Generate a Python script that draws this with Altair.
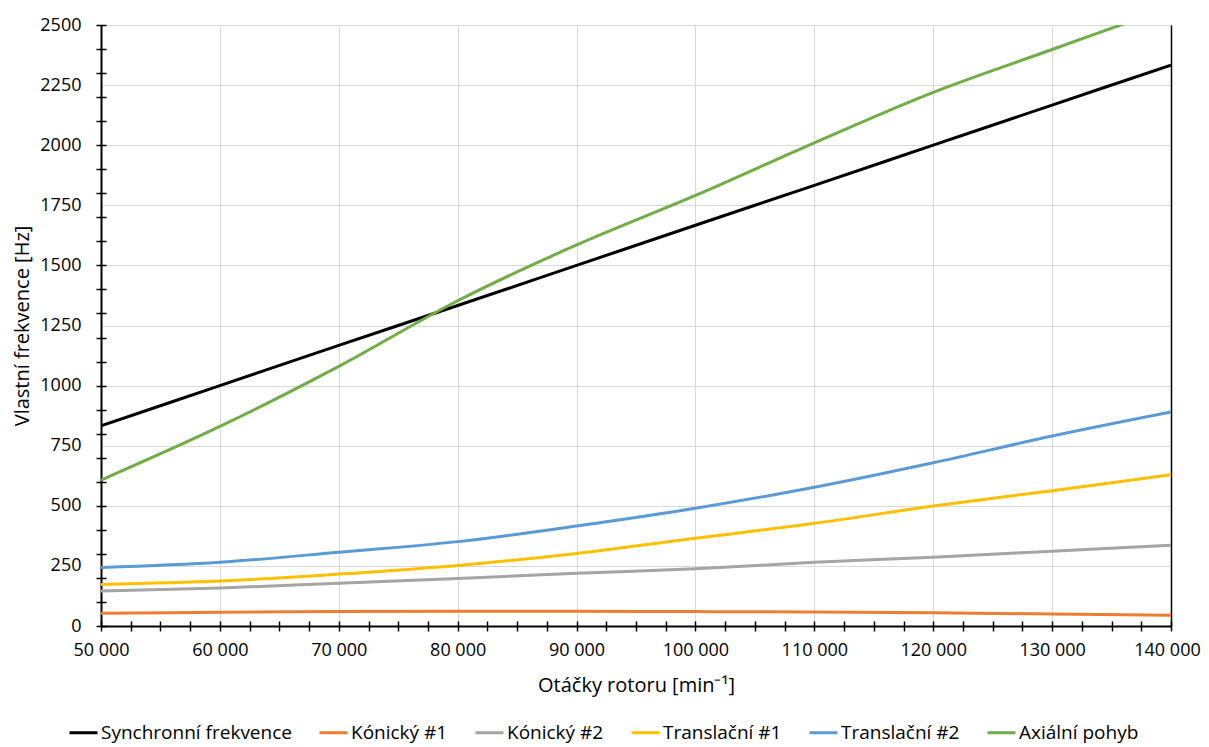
import altair as alt
import pandas as pd

# ---- data ----
rpm = [50000, 60000, 70000, 80000, 90000, 100000, 110000, 120000, 130000, 140000]
synchronni = [833, 1000, 1167, 1333, 1500, 1667, 1833, 2000, 2167, 2333]
konicky1 = [53, 57, 60, 61, 61, 60, 58, 55, 50, 45]
konicky2 = [146, 158, 178, 198, 219, 238, 265, 286, 311, 336]
translacni1 = [173, 187, 216, 252, 302, 365, 427, 499, 563, 629]
translacni2 = [243, 265, 307, 351, 416, 490, 577, 679, 790, 890]
axialni = [607, 830, 1080, 1353, 1585, 1791, 2010, 2220, 2398, 2575]

series_names = ["Synchronní frekvence", "Kónický #1", "Kónický #2",
                "Translační #1", "Translační #2", "Axiální pohyb"]
series_colors = ["#000000", "#ED7D31", "#A5A5A5", "#FFC000", "#5B9BD5", "#70AD47"]
series_values = [synchronni, konicky1, konicky2, translacni1, translacni2, axialni]

x_title = "Otáčky rotoru [min⁻¹]"
y_title = "Vlastní frekvence [Hz]"

x_domain = [50000, 140000]
y_domain = [0, 2500]
x_label_values = list(range(50000, 140001, 10000))
x_tick_values = list(range(50000, 140001, 2500))
y_label_values = list(range(0, 2501, 250))
y_tick_values = list(range(0, 2501, 100))

rows = []
for k, (name, vals) in enumerate(zip(series_names, series_values)):
    for r, v in zip(rpm, vals):
        rows.append({"rpm": r, "value": v, "series": name, "order": k})
df = pd.DataFrame(rows)

W, H = 1070, 601
FONT = "Open Sans"

xs = alt.Scale(domain=x_domain, nice=False, zero=False)
ys = alt.Scale(domain=y_domain, nice=False)

base = alt.Chart(df)

lines = base.mark_line(strokeWidth=3, interpolate="catmull-rom", clip=True).encode(
    x=alt.X("rpm:Q", scale=xs, axis=alt.Axis(
        values=x_label_values,
        labelExpr="replace(format(datum.value, 'd'), /(\\d)(?=(\\d{3})+$)/g, '$1 ')",
        labelOffset={"condition": {"test": "datum.value >= 140000", "value": -4}, "value": 0},
        ticks=False, tickSize=0, grid=True, gridColor="#D9D9D9", gridWidth=1,
        domain=True, domainColor="#000000", domainWidth=2,
        labelFont=FONT, labelFontSize=18, labelColor="#000000", labelPadding=15,
        labelFlush=False, labelOverlap=False,
        title=x_title, titleFont=FONT, titleFontSize=20, titleFontWeight="normal",
        titleColor="#000000", titlePadding=16)),
    y=alt.Y("value:Q", scale=ys, axis=alt.Axis(
        values=y_label_values, format="d",
        ticks=False, tickSize=0, grid=True, gridColor="#D9D9D9", gridWidth=1,
        domain=True, domainColor="#000000", domainWidth=2,
        labelFont=FONT, labelFontSize=18, labelColor="#000000", labelPadding=20,
        labelFlush=False, labelOverlap=False,
        title=y_title, titleFont=FONT, titleFontSize=20, titleFontWeight="normal",
        titleColor="#000000", titlePadding=7)),
    color=alt.Color("series:N",
                    scale=alt.Scale(domain=series_names, range=series_colors),
                    sort=series_names,
                    legend=alt.Legend(orient="none", legendX=-33, legendY=692,
                                      direction="horizontal", columns=6,
                                      symbolType="stroke", symbolStrokeWidth=3,
                                      symbolSize=784, labelFont=FONT,
                                      labelFontSize=19, labelColor="#000000",
                                      labelOffset=2, columnPadding=21,
                                      labelLimit=400, title=None)),
    order=alt.Order("order:Q"),
)

yticks = base.mark_line(opacity=0).encode(
    x=alt.X("rpm:Q", scale=xs, axis=None),
    y=alt.Y("value:Q", scale=ys, axis=alt.Axis(
        orient="right", offset=-(W + 5), values=y_tick_values,
        ticks=True, tickSize=10, tickWidth=1.5, tickColor="#000000",
        labels=False, domain=False, grid=False, title=None)),
)

xticks = base.mark_line(opacity=0).encode(
    x=alt.X("rpm:Q", scale=xs, axis=alt.Axis(
        orient="top", offset=-(H + 5), values=x_tick_values,
        ticks=True, tickSize=10, tickWidth=1.5, tickColor="#000000",
        labels=False, domain=False, grid=False, title=None)),
    y=alt.Y("value:Q", scale=ys, axis=alt.Axis(
        orient="right", offset=0, ticks=False, labels=False, grid=False,
        domain=True, domainColor="#000000", domainWidth=1.5, title=None)),
)

chart = alt.layer(lines, yticks, xticks).resolve_axis(
    x="independent", y="independent"
).properties(
    width=W, height=H,
    autosize=alt.AutoSizeParams(type="none"),
    padding={"left": 93, "top": 17, "right": 30, "bottom": 121},
).configure_view(stroke="#595959", strokeWidth=1).configure(background="#FFFFFF")

chart.save("out.html", embed_options={"renderer": "svg", "actions": False})
